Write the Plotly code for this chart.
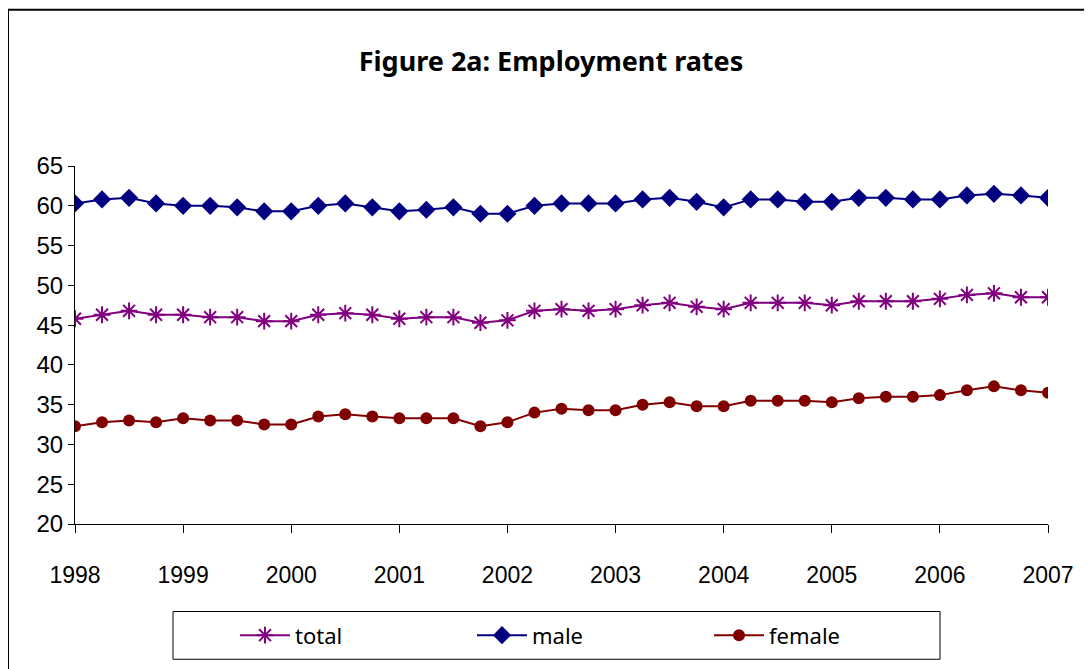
import plotly.graph_objects as go

# Quarterly periods 1998Q1 .. 2007Q1
years = list(range(1998, 2008))
quarters = [(y, q) for y in years for q in (1, 2, 3, 4)][:37]
x_vals = [y + (q - 1) / 4 for (y, q) in quarters]

total = [45.8, 46.3, 46.8, 46.3, 46.3, 46.0, 46.0, 45.5, 45.5, 46.3, 46.5, 46.3,
         45.8, 46.0, 46.0, 45.3, 45.6, 46.8, 47.0, 46.8, 47.0, 47.5, 47.8, 47.3,
         47.0, 47.8, 47.8, 47.8, 47.5, 48.0, 48.0, 48.0, 48.3, 48.8, 49.0, 48.5, 48.5]
male = [60.3, 60.8, 61.0, 60.3, 60.0, 60.0, 59.8, 59.3, 59.3, 60.0, 60.3, 59.8,
        59.3, 59.5, 59.8, 59.0, 59.0, 60.0, 60.3, 60.3, 60.3, 60.8, 61.0, 60.5,
        59.8, 60.8, 60.8, 60.5, 60.5, 61.0, 61.0, 60.8, 60.8, 61.3, 61.5, 61.3, 61.0]
female = [32.3, 32.8, 33.0, 32.8, 33.3, 33.0, 33.0, 32.5, 32.5, 33.5, 33.8, 33.5,
          33.3, 33.3, 33.3, 32.3, 32.8, 34.0, 34.5, 34.3, 34.3, 35.0, 35.3, 34.8,
          34.8, 35.5, 35.5, 35.5, 35.3, 35.8, 36.0, 36.0, 36.2, 36.8, 37.3, 36.8, 36.5]

series_names = ["total", "male", "female"]
y_ticks = [20, 25, 30, 35, 40, 45, 50, 55, 60, 65]

OFF = 8  # page body margin
W, H = 1092 - OFF, 669 - OFF
L, R, T, B = 75 - OFF, 1048 - OFF, 166 - OFF, 526 - OFF

def px_x(p):
    p -= OFF
    return (p - L) / (R - L)

def px_y(p):
    p -= OFF
    return (B - p) / (B - T)

font_main = "Comic Sans MS, Noto Sans, Liberation Sans, sans-serif"

fig = go.Figure()
fig.add_trace(go.Scatter(
    x=x_vals, y=total, name=series_names[0], mode="lines+markers",
    line=dict(color="#800080", width=2),
    marker=dict(symbol="asterisk-open", size=14, color="#800080",
                line=dict(color="#800080", width=2))))
fig.add_trace(go.Scatter(
    x=x_vals, y=male, name=series_names[1], mode="lines+markers",
    line=dict(color="#000080", width=2),
    marker=dict(symbol="diamond", size=14, color="#000080")))
fig.add_trace(go.Scatter(
    x=x_vals, y=female, name=series_names[2], mode="lines+markers",
    line=dict(color="#800000", width=2),
    marker=dict(symbol="circle", size=12, color="#800000")))

fig.update_layout(
    width=W, height=H,
    margin=dict(l=L, r=W - R, t=T, b=H - B, pad=0),
    paper_bgcolor="white", plot_bgcolor="white",
    title=dict(text="<b>Figure 2a: Employment rates</b>", x=px_x(551), xref="paper",
               xanchor="center", y=1 - (62 - OFF) / H, yanchor="middle",
               font=dict(family=font_main, size=27, color="black")),
    xaxis=dict(range=[1998, 2007], tickmode="array", tickvals=years,
               ticktext=[str(y) for y in years], showgrid=False, zeroline=False,
               showline=True, linecolor="black", linewidth=1,
               ticks="outside", ticklen=8, tickcolor="black",
               ticklabelstandoff=22,
               tickfont=dict(family="Liberation Sans, Arial", size=23, color="black")),
    yaxis=dict(range=[20, 65], tickmode="array", tickvals=y_ticks, showgrid=False,
               zeroline=False, showline=True, linecolor="black", linewidth=1,
               ticks="outside", ticklen=6, tickcolor="black",
               tickfont=dict(family="Liberation Sans, Arial", size=24, color="black")),
    showlegend=True,
    legend=dict(orientation="h", x=px_x(235), xanchor="left", y=px_y(638),
                yanchor="middle", bgcolor="rgba(0,0,0,0)", borderwidth=0,
                itemwidth=50, entrywidth=172, entrywidthmode="pixels",
                font=dict(family=font_main, size=22, color="black")),
    shapes=[
        dict(type="rect", xref="paper", yref="paper",
             x0=px_x(8), x1=px_x(1110), y0=px_y(690), y1=px_y(9),
             line=dict(color="black", width=2), fillcolor="rgba(0,0,0,0)", layer="below"),
        dict(type="rect", xref="paper", yref="paper",
             x0=px_x(173), x1=px_x(940), y0=px_y(662), y1=px_y(614),
             line=dict(color="black", width=1), fillcolor="rgba(0,0,0,0)"),
    ],
)

fig.write_html("out.html")
